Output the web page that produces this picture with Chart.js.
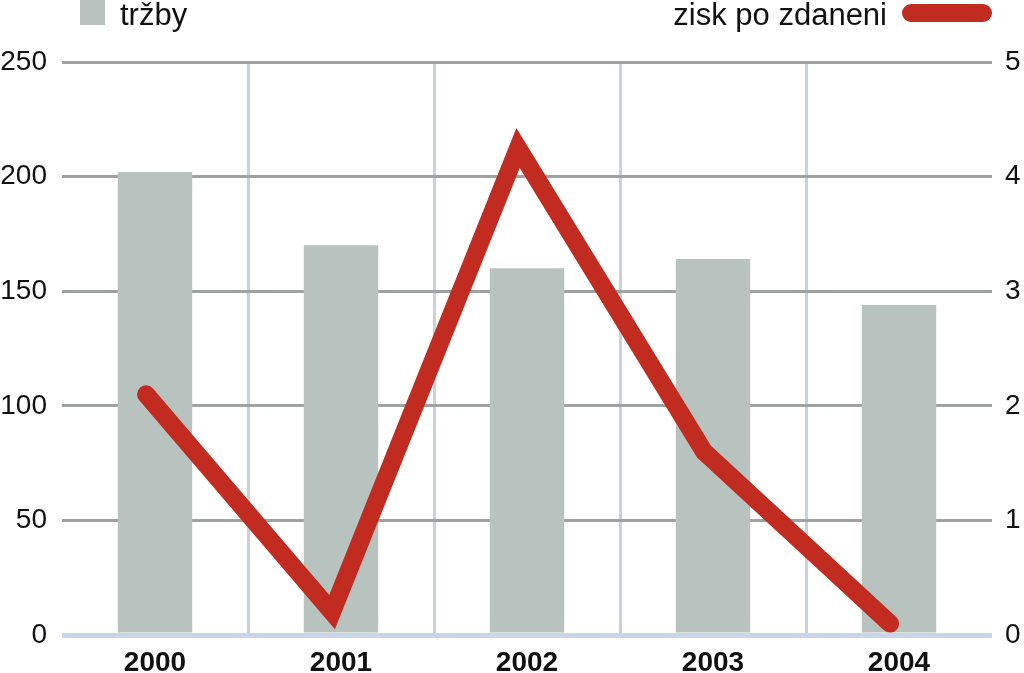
<!DOCTYPE html>
<html>
<head>
<meta charset="utf-8">
<script src="https://cdn.jsdelivr.net/npm/chart.js@4"></script>
<style>
  html, body { margin: 0; padding: 0; background: #fff; overflow: hidden; }
  #wrap { position: relative; width: 1024px; height: 673px; }
  canvas { position: absolute; left: 0; top: 0; }
  .lg { position: absolute; font-family: "Liberation Sans", Arial, sans-serif; font-size: 31px; line-height: 31px; color: #111; white-space: nowrap; }
  #sq { position: absolute; left: 80px; top: -2px; width: 25px; height: 27px; background: #b8c2bf; }
  #ln { position: absolute; left: 902px; top: 4px; width: 90px; height: 18px; border-radius: 9px; background: #c22b1f; }
</style>
</head>
<body>
<div id="wrap">
  <canvas id="c" width="1024" height="673"></canvas>
  <div id="sq"></div>
  <div class="lg" style="left:120px; top:-1px;">tržby</div>
  <div class="lg" style="right:137px; top:-1px; text-align:right;">zisk po zdaneni</div>
  <div id="ln"></div>
</div>
<script>
const years = ['2000', '2001', '2002', '2003', '2004'];
const sales = [202, 170, 160, 164, 144];          // tržby (left axis)
const profit = [2.1, 0.2, 4.25, 1.6, 0.1];        // zisk po zdanení (right axis)
const leftTicks = [0, 50, 100, 150, 200, 250];
const rightTicks = [0, 1, 2, 3, 4, 5];

const BAR = '#b8c2bf';
const RED = '#c22b1f';

new Chart(document.getElementById('c'), {
  type: 'bar',
  data: {
    labels: years,
    datasets: [
      {
        type: 'line',
        label: 'zisk po zdaneni',
        data: profit.map((v, i) => ({ x: i, y: v })),
        xAxisID: 'x2',
        yAxisID: 'y1',
        borderColor: RED,
        borderWidth: 18,
        borderCapStyle: 'round',
        borderJoinStyle: 'miter',
        tension: 0,
        pointRadius: 0,
        fill: false,
        order: 0
      },
      {
        type: 'bar',
        label: 'tržby',
        data: sales,
        xAxisID: 'x',
        yAxisID: 'y',
        backgroundColor: BAR,
        borderWidth: 0,
        grouped: false,
        barPercentage: 0.4,
        categoryPercentage: 1.0,
        order: 1
      }
    ]
  },
  options: {
    responsive: false,
    animation: false,
    devicePixelRatio: 1,
    layout: { padding: { top: 62, left: 0, right: 0, bottom: 0 } },
    plugins: { legend: { display: false }, tooltip: { enabled: false } },
    scales: {
      x: {
        type: 'category',
        offset: true,
        border: { display: false },
        grid: {
          offset: true,
          drawTicks: false,
          lineWidth: 3,
          color: (ctx) => (ctx.index === undefined || ctx.index === 0) ? 'rgba(0,0,0,0)' : '#c9d2da'
        },
        ticks: {
          padding: 11,
          color: '#111',
          font: { family: '"Liberation Sans", Arial, sans-serif', size: 28, weight: 'bold' }
        },
        afterFit: (s) => { s.height = 38; }
      },
      x2: {
        type: 'linear',
        display: false,
        offset: false,
        grid: { offset: false },
        min: -0.452,
        max: 4.548
      },
      y: {
        position: 'left',
        min: 0,
        max: 250,
        border: { display: false },
        afterBuildTicks: (s) => { s.ticks = leftTicks.map(v => ({ value: v })); },
        grid: {
          drawTicks: false,
          lineWidth: (ctx) => ctx.tick && ctx.tick.value === 0 ? 5 : 3,
          color: (ctx) => ctx.tick && ctx.tick.value === 0 ? '#c9d6e8' : '#9ea2a3'
        },
        ticks: {
          padding: 15,
          color: '#111',
          font: { family: '"Liberation Sans", Arial, sans-serif', size: 28 }
        },
        afterFit: (s) => { s.width = 62; }
      },
      y1: {
        position: 'right',
        min: 0,
        max: 5,
        border: { display: false },
        afterBuildTicks: (s) => { s.ticks = rightTicks.map(v => ({ value: v })); },
        grid: { display: false, drawTicks: false },
        ticks: {
          padding: 13,
          color: '#111',
          font: { family: '"Liberation Sans", Arial, sans-serif', size: 28 }
        },
        afterFit: (s) => { s.width = 32; }
      }
    }
  }
});
</script>
</body>
</html>
